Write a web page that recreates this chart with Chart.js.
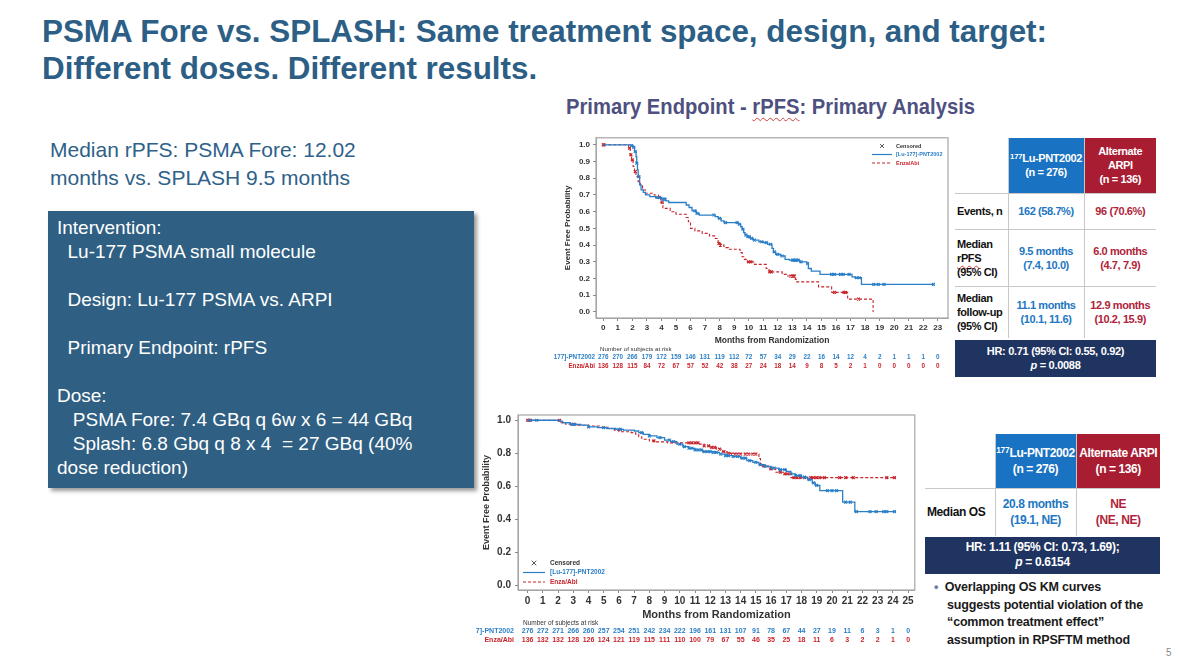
<!DOCTYPE html>
<html lang="en">
<head>
  <meta charset="UTF-8" />
  <title>PSMA Fore vs. SPLASH</title>
  <script src="https://cdn.jsdelivr.net/npm/chart.js"></script>
  <style>
    body {
      margin: 0;
      width: 1192px;
      height: 667px;
      position: relative;
      overflow: hidden;
      background: #fff;
      font-family: 'Liberation Sans', Arial, sans-serif;
    }

    .fit {
      position: absolute;
      margin: 0;
      font-weight: 700;
      white-space: nowrap;
      transform-origin: left top;
    }

    h1.fit {
      left: 42px;
      top: 13px;
      font-size: 31px;
      line-height: 37px;
      color: #2d5f86;
    }

    #subtitle {
      left: 566px;
      top: 94px;
      font-size: 22px;
      line-height: 26px;
      color: #4e5080;
    }

    .squiggle { text-decoration: underline wavy #d04040 1px; text-underline-offset: 3px; }

    #median {
      position: absolute;
      left: 50px;
      top: 136px;
      font-size: 21px;
      line-height: 28px;
      color: #2e6189;
    }

    #box {
      position: absolute;
      left: 48px;
      top: 211px;
      width: 426px;
      height: 277px;
      background: #2f5f83;
      box-shadow: 3px 3px 4px rgba(0, 0, 0, 0.4);
      color: #fff;
      font-size: 19px;
      line-height: 24px;
      box-sizing: border-box;
      padding: 5px 0 0 9px;
      white-space: pre;
    }

    canvas { position: absolute; }

    table.stat {
      position: absolute;
      border-collapse: collapse;
      table-layout: fixed;
      font-weight: 700;
      letter-spacing: -0.4px;
    }

    table.stat td {
      padding: 0;
      text-align: center;
      vertical-align: middle;
      white-space: nowrap;
      border-top: 1px solid #c8c8c8;
      border-left: 1px solid #c8c8c8;
    }

    table.stat tr:first-child td { border-top: none; }
    table.stat td.lab { text-align: left; border-left: none; color: #111; padding-left: 2px; }
    table.stat td.hb { background: #1a72c2; color: #fff; }
    table.stat td.hr { background: #a81d32; color: #fff; }
    table.stat td.vb { color: #2177c2; }
    table.stat td.vr { color: #b0243a; }
    sup { font-size: 0.7em; vertical-align: 0.45em; line-height: 0; letter-spacing: -0.2px; }

    .hrbar {
      position: absolute;
      background: #1f3461;
      color: #fff;
      font-weight: 700;
      text-align: center;
      box-sizing: border-box;
      letter-spacing: -0.3px;
    }

    #bullet {
      position: absolute;
      left: 934px;
      top: 579px;
      font-size: 12.5px;
      line-height: 17.6px;
      font-weight: 700;
      color: #1a1a1a;
      white-space: pre;
      letter-spacing: -0.2px;
    }

    #bullet .dot { color: #6d7da0; }

    #page {
      position: absolute;
      left: 1166px;
      top: 647px;
      font-size: 10px;
      color: #8a8a8a;
    }
  </style>
</head>
<body>
  <h1 class="fit" id="title" data-width="1005"><span id="titleLine1">PSMA Fore vs. SPLASH: Same treatment space, design, and target:</span><br>Different doses. Different results.</h1>

  <div id="subtitle" class="fit" data-width="409"><span>Primary Endpoint - <span class="squiggle">rPFS</span>: Primary Analysis</span></div>

  <div id="median">Median rPFS: PSMA Fore: 12.02<br>months vs. SPLASH 9.5 months</div>

  <div id="box">Intervention:
  Lu-177 PSMA small molecule

  Design: Lu-177 PSMA vs. ARPI

  Primary Endpoint: rPFS

Dose:
   PSMA Fore: 7.4 GBq q 6w x 6 = 44 GBq
   Splash: 6.8 Gbq q 8 x 4  = 27 GBq (40%
dose reduction)</div>

  <canvas id="rpfsChart" width="403" height="245" style="left:552px; top:130px;"></canvas>
  <canvas id="osChart" width="445" height="245" style="left:475px; top:405px;"></canvas>

  <table class="stat" style="left:955px; top:138px; width:201px; font-size:11px; line-height:14px;">
    <colgroup><col style="width:53px"><col style="width:76px"><col style="width:72px"></colgroup>
    <tr style="height:55px">
      <td class="lab"></td>
      <td class="hb"><sup>177</sup>Lu-PNT2002<br>(n = 276)</td>
      <td class="hr">Alternate<br>ARPI<br>(n = 136)</td>
    </tr>
    <tr style="height:36px">
      <td class="lab">Events, n</td>
      <td class="vb">162 (58.7%)</td>
      <td class="vr">96 (70.6%)</td>
    </tr>
    <tr style="height:57px">
      <td class="lab">Median<br><span class="squiggle">rPFS</span><br>(95% CI)</td>
      <td class="vb">9.5 months<br>(7.4, 10.0)</td>
      <td class="vr">6.0 months<br>(4.7, 7.9)</td>
    </tr>
    <tr style="height:52px">
      <td class="lab">Median<br>follow-up<br>(95% CI)</td>
      <td class="vb">11.1 months<br>(10.1, 11.6)</td>
      <td class="vr">12.9 months<br>(10.2, 15.9)</td>
    </tr>
  </table>
  <div class="hrbar" style="left:955px; top:340px; width:201px; height:37px; font-size:11px; line-height:14px; padding-top:4px;">HR: 0.71 (95% CI: 0.55, 0.92)<br><i>p</i> = 0.0088</div>

  <table class="stat" style="left:925px; top:434px; width:235px; font-size:12px; line-height:16px;">
    <colgroup><col style="width:70px"><col style="width:81px"><col style="width:84px"></colgroup>
    <tr style="height:54px">
      <td class="lab"></td>
      <td class="hb"><sup>177</sup>Lu-PNT2002<br>(n = 276)</td>
      <td class="hr">Alternate ARPI<br>(n = 136)</td>
    </tr>
    <tr style="height:48px">
      <td class="lab">Median OS</td>
      <td class="vb">20.8 months<br>(19.1, NE)</td>
      <td class="vr">NE<br>(NE, NE)</td>
    </tr>
  </table>
  <div class="hrbar" style="left:925px; top:537px; width:235px; height:37px; font-size:12px; line-height:15px; padding-top:3px;">HR: 1.11 (95% CI: 0.73, 1.69);<br><i>p</i> = 0.6154</div>

  <div id="bullet"><span class="dot">•</span>  Overlapping OS KM curves
    suggests potential violation of the
    “common treatment effect”
    assumption in RPSFTM method</div>

  <div id="page">5</div>

  <script>
    // narrow headline font is not installed, so squeeze the bold face to the slide's widths
    document.querySelectorAll('.fit').forEach(el => {
      const w = el.querySelector('span').getBoundingClientRect().width;
      el.style.transform = `scaleX(${Number(el.dataset.width) / w})`;
    });

    const BLUE = '#2a7fc7';
    const RED = '#c8252d';
    const FONT = "'Liberation Sans', Arial, sans-serif";

    // ---- rPFS (top chart): Kaplan-Meier steps, time in months / survival
    const rpfsLuTime = [0, 1.9, 2.05, 2.15, 2.25, 2.3, 2.35, 2.4, 2.5, 2.6, 2.75, 2.9, 3.2, 3.6, 4.0, 4.3, 4.5, 5.7, 5.9, 6.1, 6.4, 6.6, 7.7, 7.9, 8.1, 8.3, 9.3, 9.45, 9.55, 9.65, 9.75, 9.9, 10.1, 10.3, 10.7, 11.0, 11.3, 11.6, 11.7, 11.85, 12.2, 12.5, 12.8, 13.5, 14.0, 14.1, 14.3, 14.9, 17.1, 17.3, 17.75, 22.7];
    const rpfsLuSurv = [1.0, 0.995, 0.985, 0.96, 0.93, 0.89, 0.85, 0.81, 0.76, 0.73, 0.715, 0.70, 0.69, 0.685, 0.675, 0.665, 0.655, 0.64, 0.625, 0.605, 0.59, 0.58, 0.57, 0.56, 0.545, 0.535, 0.525, 0.51, 0.495, 0.475, 0.46, 0.45, 0.44, 0.43, 0.42, 0.415, 0.405, 0.38, 0.36, 0.345, 0.335, 0.315, 0.31, 0.30, 0.29, 0.26, 0.245, 0.225, 0.21, 0.205, 0.165, 0.165];
    const rpfsEnzaTime = [0, 1.75, 1.85, 1.95, 2.05, 2.15, 2.25, 2.4, 2.55, 2.7, 2.9, 3.5, 3.8, 3.95, 4.1, 4.6, 5.0, 5.7, 5.85, 6.0, 6.3, 6.8, 7.3, 7.7, 7.9, 8.05, 8.3, 8.6, 9.4, 9.55, 9.7, 9.9, 10.4, 11.2, 11.4, 12.3, 12.6, 13.2, 13.3, 14.8, 15.7, 16.8, 18.55];
    const rpfsEnzaSurv = [1.0, 0.98, 0.94, 0.91, 0.87, 0.84, 0.81, 0.78, 0.755, 0.73, 0.71, 0.70, 0.685, 0.655, 0.62, 0.60, 0.585, 0.565, 0.54, 0.50, 0.485, 0.47, 0.455, 0.44, 0.41, 0.40, 0.385, 0.375, 0.355, 0.33, 0.315, 0.30, 0.285, 0.26, 0.24, 0.225, 0.215, 0.195, 0.18, 0.15, 0.117, 0.077, 0.0];
    const rpfsLuCensored = [1.95, 2.1, 2.2, 2.3, 2.45, 3.7, 3.85, 4.05, 4.15, 4.25, 6.3, 6.45, 7.6, 8.0, 8.4, 9.2, 9.35, 9.6, 9.8, 9.95, 10.05, 10.2, 10.4, 10.9, 11.2, 11.5, 11.75, 12.0, 12.3, 13.0, 13.1, 13.2, 13.3, 13.4, 13.6, 14.05, 15.7, 15.9, 16.3, 16.5, 16.9, 17.4, 17.6, 18.6, 18.9, 19.3, 22.7];
    const rpfsEnzaCensored = [0.0, 0.05, 1.8, 1.9, 2.0, 2.2, 3.85, 4.05, 7.95, 8.05, 10.0, 10.15, 11.45, 11.55, 12.9, 13.0, 13.1, 13.15, 15.9, 16.55, 16.65, 17.55];
    const rpfsMonthTicks = [0, 1, 2, 3, 4, 5, 6, 7, 8, 9, 10, 11, 12, 13, 14, 15, 16, 17, 18, 19, 20, 21, 22, 23];
    const rpfsProbTicks = [0.0, 0.1, 0.2, 0.3, 0.4, 0.5, 0.6, 0.7, 0.8, 0.9, 1.0];
    const rpfsAtRiskLu = [276, 270, 266, 179, 172, 159, 146, 131, 119, 112, 72, 57, 34, 29, 22, 16, 14, 12, 4, 2, 1, 1, 1, 0];
    const rpfsAtRiskEnza = [136, 128, 115, 84, 72, 67, 57, 52, 42, 38, 27, 24, 18, 14, 9, 8, 5, 2, 1, 0, 0, 0, 0, 0];

    // ---- OS (bottom chart)
    const osLuTime = [0, 2.0, 2.3, 2.8, 3.5, 4.0, 4.6, 5.2, 5.8, 6.3, 7.0, 7.3, 7.6, 8.0, 8.5, 9.0, 9.4, 9.8, 10.2, 10.6, 11.0, 11.5, 12.2, 12.6, 13.0, 13.5, 14.0, 14.4, 14.8, 15.2, 15.6, 16.0, 16.5, 17.0, 17.3, 17.6, 18.0, 18.4, 18.7, 18.9, 19.2, 20.7, 21.5, 24.2];
    const osLuSurv = [1.0, 0.995, 0.985, 0.975, 0.97, 0.96, 0.955, 0.95, 0.945, 0.94, 0.935, 0.925, 0.915, 0.905, 0.895, 0.88, 0.87, 0.855, 0.84, 0.83, 0.82, 0.81, 0.805, 0.795, 0.785, 0.78, 0.77, 0.755, 0.745, 0.73, 0.72, 0.71, 0.70, 0.69, 0.675, 0.665, 0.655, 0.64, 0.62, 0.605, 0.573, 0.503, 0.446, 0.446];
    const osEnzaTime = [0, 2.2, 2.5, 3.3, 4.0, 4.8, 5.3, 5.7, 6.0, 6.8, 7.1, 7.3, 7.5, 8.0, 8.4, 9.2, 11.3, 11.6, 12.0, 12.4, 12.8, 13.1, 13.4, 15.2, 15.3, 15.8, 16.3, 16.8, 17.3, 24.2];
    const osEnzaSurv = [1.0, 0.985, 0.976, 0.97, 0.965, 0.958, 0.95, 0.94, 0.93, 0.925, 0.915, 0.90, 0.885, 0.875, 0.869, 0.863, 0.855, 0.845, 0.835, 0.825, 0.81, 0.80, 0.795, 0.768, 0.724, 0.705, 0.685, 0.675, 0.652, 0.652];
    const osLuCensored = [0.1, 0.6, 2.9, 3.1, 4.0, 5.0, 6.0, 6.1, 7.5, 8.0, 8.7, 9.3, 9.6, 10.0, 10.3, 10.6, 10.8, 11.0, 11.2, 11.4, 11.6, 11.8, 12.0, 12.2, 12.4, 12.7, 13.0, 13.2, 13.5, 13.8, 14.1, 14.3, 14.6, 15.0, 15.3, 15.6, 16.0, 16.2, 16.6, 16.9, 17.3, 17.6, 17.9, 18.2, 18.5, 18.8, 19.0, 19.7, 20.0, 20.3, 20.9, 21.2, 21.6, 22.5, 22.9, 23.4, 23.6, 24.1];
    const osEnzaCensored = [0.0, 0.1, 0.2, 2.1, 3.0, 8.3, 10.6, 10.8, 11.0, 11.2, 11.6, 11.9, 12.1, 12.3, 12.6, 12.9, 13.2, 13.4, 13.6, 13.8, 14.0, 14.3, 14.5, 14.8, 15.0, 15.5, 16.0, 16.6, 16.9, 17.1, 17.5, 17.7, 17.9, 18.2, 18.6, 18.8, 19.0, 19.2, 19.5, 20.5, 20.9, 21.4, 23.6, 24.1];
    const osMonthTicks = [0, 1, 2, 3, 4, 5, 6, 7, 8, 9, 10, 11, 12, 13, 14, 15, 16, 17, 18, 19, 20, 21, 22, 23, 24, 25];
    const osProbTicks = [0.0, 0.2, 0.4, 0.6, 0.8, 1.0];
    const osAtRiskLu = [276, 272, 271, 266, 260, 257, 254, 251, 242, 234, 222, 196, 161, 131, 107, 91, 78, 67, 44, 27, 19, 11, 6, 3, 1, 0];
    const osAtRiskEnza = [136, 132, 132, 128, 126, 124, 121, 119, 115, 111, 110, 100, 79, 67, 55, 46, 35, 25, 18, 11, 6, 3, 2, 2, 1, 0];

    const armLabels = ['[Lu-177]-PNT2002', 'Enza/Abi'];

    function kmPoints(times, surv) {
      return times.map((t, i) => ({ x: t, y: surv[i] }));
    }

    // censored marks sit on the curve, so look up the step value at that time
    function survAt(times, surv, t) {
      let v = surv[0];
      for (let i = 0; i < times.length; i++) {
        if (times[i] <= t) v = surv[i];
      }
      return v;
    }

    function censorPoints(cens, times, surv) {
      return cens.map(t => ({ x: t, y: survAt(times, surv, t) }));
    }

    const framePlugin = {
      id: 'frame',
      beforeDraw(chart) {
        const a = chart.chartArea, ctx = chart.ctx;
        ctx.save();
        ctx.strokeStyle = '#a5a5a5';
        ctx.lineWidth = 1.2;
        ctx.strokeRect(a.left, a.top, a.right - a.left, a.bottom - a.top);
        ctx.restore();
      }
    };

    const atRiskPlugin = {
      id: 'atRisk',
      afterDraw(chart, args, o) {
        const ctx = chart.ctx, xs = chart.scales.x;
        ctx.save();
        ctx.textBaseline = 'middle';
        ctx.font = `${o.headSize}px ${FONT}`;
        ctx.fillStyle = '#333';
        ctx.textAlign = 'left';
        ctx.fillText('Number of subjects at risk', o.headX, o.headY);
        ctx.font = `bold ${o.size}px ${FONT}`;
        o.rows.forEach(r => {
          ctx.fillStyle = r.color;
          ctx.textAlign = 'right';
          ctx.fillText(r.label, o.labelX, r.y);
          ctx.textAlign = 'center';
          r.values.forEach((v, i) => ctx.fillText(String(v), xs.getPixelForValue(i), r.y));
        });
        ctx.restore();
      }
    };

    const kmLegendPlugin = {
      id: 'kmLegend',
      afterDraw(chart, args, o) {
        const ctx = chart.ctx;
        const ds = chart.data.datasets;
        ctx.save();
        ctx.font = `bold ${o.size}px ${FONT}`;
        ctx.textBaseline = 'middle';
        ctx.textAlign = 'left';
        // censored symbol
        const cx = o.x + o.len / 2, cy = o.y, r = o.size * 0.35;
        ctx.strokeStyle = '#555';
        ctx.lineWidth = 1;
        ctx.beginPath();
        ctx.moveTo(cx - r, cy - r); ctx.lineTo(cx + r, cy + r);
        ctx.moveTo(cx + r, cy - r); ctx.lineTo(cx - r, cy + r);
        ctx.stroke();
        ctx.fillStyle = '#333';
        ctx.fillText('Censored', o.x + o.len + o.gap, cy);
        [0, 1].forEach((k, i) => {
          const y = o.y + o.step * (i + 1);
          ctx.strokeStyle = ds[k].borderColor;
          ctx.lineWidth = 1.2;
          ctx.setLineDash(ds[k].borderDash || []);
          ctx.beginPath();
          ctx.moveTo(o.x, y); ctx.lineTo(o.x + o.len, y);
          ctx.stroke();
          ctx.setLineDash([]);
          ctx.fillStyle = ds[k].borderColor;
          ctx.fillText(ds[k].label, o.x + o.len + o.gap, y);
        });
        ctx.restore();
      }
    };

    function kmDatasets(luT, luS, enT, enS, luC, enC, markR) {
      return [
        { label: armLabels[0], data: kmPoints(luT, luS), borderColor: BLUE, borderWidth: 1.3, stepped: true, pointRadius: 0, fill: false },
        { label: armLabels[1], data: kmPoints(enT, enS), borderColor: RED, borderWidth: 1.1, borderDash: [3, 2], stepped: true, pointRadius: 0, fill: false },
        { label: 'Censored', data: censorPoints(luC, luT, luS), showLine: false, pointStyle: 'crossRot', pointRadius: markR, borderColor: BLUE, borderWidth: 1.2 },
        { label: 'Censored', data: censorPoints(enC, enT, enS), showLine: false, pointStyle: 'crossRot', pointRadius: markR, borderColor: RED, borderWidth: 1.2 }
      ];
    }

    function kmScales(s) {
      return {
        x: {
          type: 'linear',
          min: s.xMin, max: s.xMax,
          afterBuildTicks: sc => { sc.ticks = s.xTicks.map(v => ({ value: v })); },
          afterFit: sc => { sc.height = s.xHeight; },
          ticks: { color: '#333', font: { family: FONT, size: s.tickSize, weight: 'bold' }, padding: 2, maxRotation: 0, autoSkip: false, callback: v => String(v) },
          grid: { drawOnChartArea: false, drawTicks: true, tickLength: 3, color: '#888' },
          border: { display: true, color: '#a5a5a5' },
          title: { display: true, text: 'Months from Randomization', color: '#333', font: { family: FONT, size: s.titleSize, weight: 'bold' }, padding: { top: 0, bottom: s.xTitlePad } }
        },
        y: {
          min: s.yMin, max: s.yMax,
          afterBuildTicks: sc => { sc.ticks = s.yTicks.map(v => ({ value: v })); },
          afterFit: sc => { sc.width = s.yWidth; },
          ticks: { color: '#333', font: { family: FONT, size: s.tickSize, weight: 'bold' }, padding: s.yTickPad, callback: v => Number(v).toFixed(1) },
          grid: { drawOnChartArea: false, drawTicks: true, tickLength: 3, color: '#888' },
          border: { display: true, color: '#a5a5a5' },
          title: { display: true, text: 'Event Free Probability', color: '#333', font: { family: FONT, size: s.yTitleSize, weight: 'bold' }, padding: { top: s.yTitlePad, bottom: 0 } }
        }
      };
    }

    new Chart(document.getElementById('rpfsChart'), {
      type: 'line',
      data: { datasets: kmDatasets(rpfsLuTime, rpfsLuSurv, rpfsEnzaTime, rpfsEnzaSurv, rpfsLuCensored, rpfsEnzaCensored, 2) },
      options: {
        responsive: false,
        animation: false,
        layout: { padding: { top: 7, right: 7, left: 0, bottom: 0 } },
        scales: kmScales({
          xMin: -0.5, xMax: 23.7, xTicks: rpfsMonthTicks, xHeight: 57, xTitlePad: 29,
          yMin: -0.036, yMax: 1.042, yTicks: rpfsProbTicks, yWidth: 44, yTickPad: 3,
          tickSize: 8, titleSize: 8.5, yTitleSize: 8, yTitlePad: 11
        }),
        plugins: {
          legend: { display: false },
          tooltip: { enabled: false },
          kmLegend: { x: 320, y: 16, len: 20, gap: 4, step: 8.5, size: 5.5 },
          atRisk: {
            headX: 48, headY: 219, headSize: 6.2, labelX: 43, size: 6.3,
            rows: [
              { label: '177]-PNT2002', values: rpfsAtRiskLu, color: BLUE, y: 227 },
              { label: 'Enza/Abi', values: rpfsAtRiskEnza, color: RED, y: 236 }
            ]
          }
        }
      },
      plugins: [framePlugin, atRiskPlugin, kmLegendPlugin]
    });

    new Chart(document.getElementById('osChart'), {
      type: 'line',
      data: { datasets: kmDatasets(osLuTime, osLuSurv, osEnzaTime, osEnzaSurv, osLuCensored, osEnzaCensored, 2) },
      options: {
        responsive: false,
        animation: false,
        layout: { padding: { top: 9, right: 3, left: 0, bottom: 0 } },
        scales: kmScales({
          xMin: -0.63, xMax: 25.44, xTicks: osMonthTicks, xHeight: 60, xTitlePad: 28,
          yMin: -0.03, yMax: 1.032, yTicks: osProbTicks, yWidth: 43, yTickPad: 4,
          tickSize: 10, titleSize: 11, yTitleSize: 9, yTitlePad: 6.6
        }),
        plugins: {
          legend: { display: false },
          tooltip: { enabled: false },
          kmLegend: { x: 48, y: 158, len: 22, gap: 5, step: 9.5, size: 6.5 },
          atRisk: {
            headX: 48, headY: 218, headSize: 6.5, labelX: 39, size: 7,
            rows: [
              { label: '7]-PNT2002', values: osAtRiskLu, color: BLUE, y: 226 },
              { label: 'Enza/Abi', values: osAtRiskEnza, color: RED, y: 235 }
            ]
          }
        }
      },
      plugins: [framePlugin, atRiskPlugin, kmLegendPlugin]
    });
  </script>
</body>
</html>
